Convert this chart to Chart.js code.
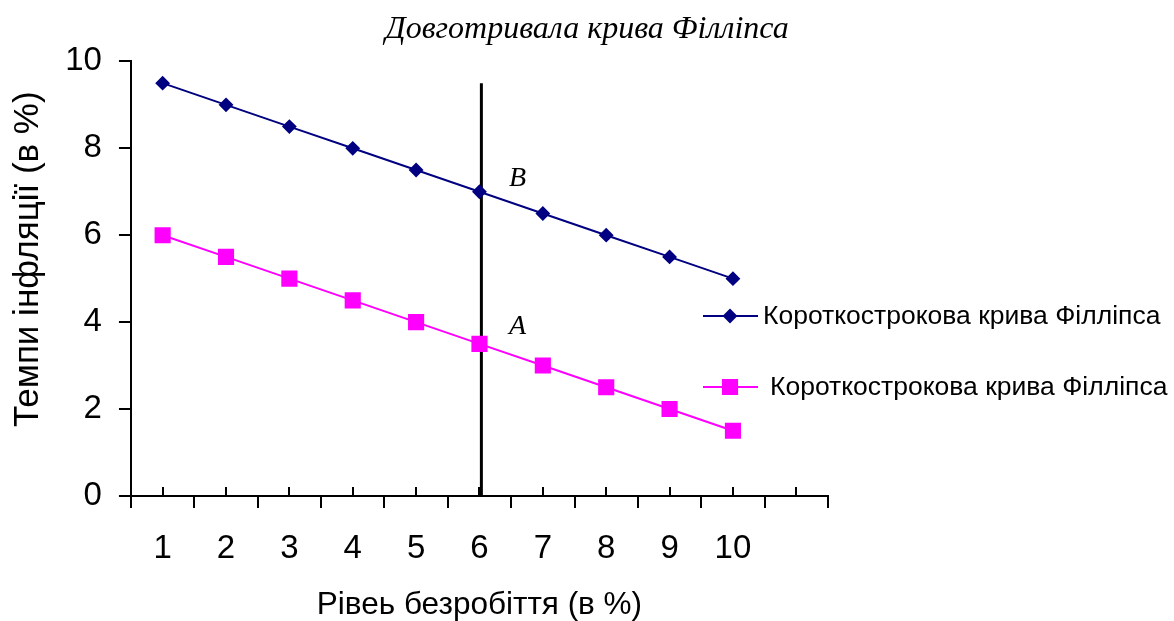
<!DOCTYPE html>
<html lang="uk">
<head>
<meta charset="utf-8">
<title>Довготривала крива Філліпса</title>
<script src="https://cdn.jsdelivr.net/npm/chart.js@4.4.1/dist/chart.umd.min.js"></script>
<style>
  html, body { margin: 0; padding: 0; background: #fff; }
  #wrap { width: 1174px; height: 621px; }
</style>
</head>
<body>
<div id="wrap"><canvas id="chart"></canvas></div>
<script>
// рівень безробіття по осі X (остання категорія порожня)
var categories = ['1', '2', '3', '4', '5', '6', '7', '8', '9', '10', ''];
// короткострокова крива, що проходить через точку B
var curveB = [9.5, 9, 8.5, 8, 7.5, 7, 6.5, 6, 5.5, 5];
// короткострокова крива, що проходить через точку A
var curveA = [6, 5.5, 5, 4.5, 4, 3.5, 3, 2.5, 2, 1.5];
// довготривала крива - вертикаль
var longRunX = [6.03, 6.03];
var longRunY = [9.5, 0];
var yTicks = [0, 2, 4, 6, 8, 10];
// підписи точок A і B
var pointNames = ['B', 'A'];
var pointX = [6.6, 6.6];
var pointY = [7.3, 3.9];
var legendText = 'Короткострокова крива Філліпса';

var SANS = '"Liberation Sans", Arial, sans-serif';
var SERIF = '"Liberation Serif", "Times New Roman", serif';

Chart.defaults.color = '#000';
Chart.defaults.font.family = SANS;

// малює внутрішні риски на осі X, букви A/B і легенду праворуч
var extras = {
  id: 'extras',
  afterDraw: function (chart) {
    var ctx = chart.ctx;
    var x = chart.scales.x, y = chart.scales.y, xv = chart.scales.xv;
    ctx.save();

    ctx.strokeStyle = '#000';
    ctx.lineWidth = 2;
    for (var i = 0; i < categories.length; i++) {
      var px = Math.round(x.getPixelForTick(i));
      ctx.beginPath();
      ctx.moveTo(px, x.top);
      ctx.lineTo(px, x.top - 9);
      ctx.stroke();
    }

    ctx.font = 'italic 28px ' + SERIF;
    ctx.fillStyle = '#000';
    ctx.textAlign = 'center';
    ctx.textBaseline = 'middle';
    pointNames.forEach(function (t, k) {
      ctx.fillText(t, xv.getPixelForValue(pointX[k]), y.getPixelForValue(pointY[k]));
    });

    var rows = [[0, 316, 763], [1, 387, 770]];
    ctx.font = '26.5px ' + SANS;
    ctx.textAlign = 'left';
    rows.forEach(function (r) {
      var ds = chart.data.datasets[r[0]];
      ctx.strokeStyle = ds.borderColor;
      ctx.lineWidth = ds.borderWidth;
      ctx.beginPath();
      ctx.moveTo(703, r[1]);
      ctx.lineTo(758, r[1]);
      ctx.stroke();
      ctx.fillStyle = ds.pointBackgroundColor;
      ctx.strokeStyle = ds.pointBorderColor;
      Chart.helpers.drawPoint(ctx, {pointStyle: ds.pointStyle, radius: ds.pointRadius, borderWidth: 1, rotation: 0}, 730, r[1]);
      ctx.fillStyle = '#000';
      ctx.fillText(ds.label, r[2], r[1] + 1);
    });
    ctx.restore();
  }
};

var ctx = document.getElementById('chart').getContext('2d');
var chart = new Chart(ctx, {
  type: 'line',
  data: {
    labels: categories,
    datasets: [
      {
        label: legendText,
        data: curveB,
        borderColor: '#000080',
        borderWidth: 2,
        pointStyle: 'rectRot',
        pointRadius: 6,
        pointBackgroundColor: '#000080',
        pointBorderColor: '#000080',
        tension: 0
      },
      {
        label: legendText,
        data: curveA,
        borderColor: '#FF00FF',
        borderWidth: 2,
        pointStyle: 'rect',
        pointRadius: 10,
        pointBackgroundColor: '#FF00FF',
        pointBorderColor: '#FF00FF',
        tension: 0
      },
      {
        label: 'Довготривала крива Філліпса',
        data: longRunX.map(function (v, i) { return {x: v, y: longRunY[i]}; }),
        xAxisID: 'xv',
        borderColor: '#000',
        borderWidth: 3,
        pointRadius: 0,
        tension: 0
      }
    ]
  },
  options: {
    responsive: true,
    maintainAspectRatio: false,
    animation: false,
    events: [],
    layout: { padding: 0 },
    plugins: {
      legend: { display: false },
      tooltip: { enabled: false },
      title: {
        display: true,
        text: 'Довготривала крива Філліпса',
        font: { family: SERIF, size: 32, style: 'italic', weight: 'normal' },
        color: '#000',
        padding: { top: 10, bottom: 13 }
      }
    },
    scales: {
      x: {
        type: 'category',
        offset: true,
        grid: { offset: true, drawOnChartArea: false, tickLength: 12, color: '#000', lineWidth: 2 },
        border: { color: '#000', width: 2 },
        ticks: { font: { size: 33 }, padding: 21, maxRotation: 0, autoSkip: false },
        title: {
          display: true,
          text: 'Рівеь безробіття (в %)',
          font: { size: 31.5, lineHeight: 1 },
          padding: { top: 0, bottom: 0 }
        }
      },
      xv: {
        type: 'linear',
        display: false,
        min: 0.5,
        max: 11.5
      },
      y: {
        min: 0,
        max: 10,
        afterBuildTicks: function (s) {
          s.ticks = yTicks.map(function (v) { return {value: v}; });
        },
        grid: { drawOnChartArea: false, tickLength: 12, color: '#000', lineWidth: 2 },
        border: { color: '#000', width: 2 },
        ticks: { font: { size: 33 }, padding: 17 },
        title: {
          display: true,
          // пробіли зсувають підпис трохи вгору вздовж осі
          text: '    Темпи інфляції (в %)',
          font: { size: 35, lineHeight: 1.15 },
          padding: { top: 8, bottom: 0 }
        }
      },
      // порожня смуга праворуч під легенду
      yr: {
        position: 'right',
        grid: { display: false, drawTicks: false },
        border: { display: false },
        ticks: { display: false },
        afterFit: function (s) { s.width = 346; }
      }
    }
  },
  plugins: [extras]
});
</script>
</body>
</html>
